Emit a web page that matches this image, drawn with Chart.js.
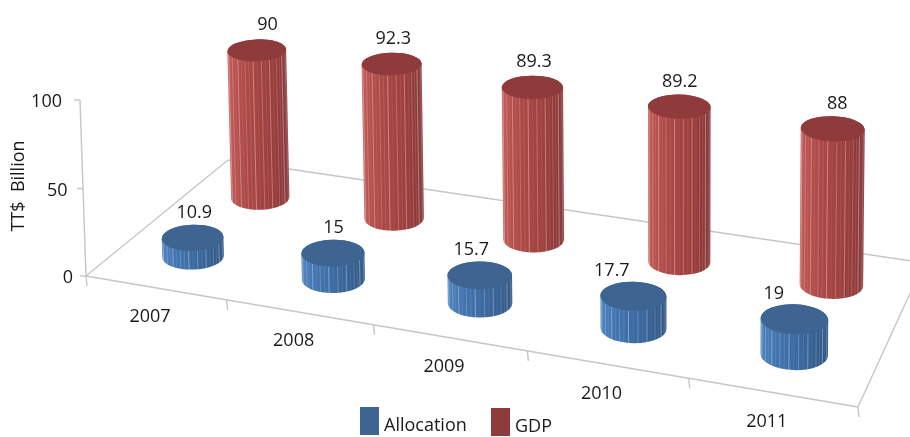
<!DOCTYPE html>
<html>
<head>
<meta charset="utf-8">
<title>Allocation and GDP</title>
<style>
  html, body { margin: 0; padding: 0; background: #fff; }
  canvas { display: block; }
</style>
<script src="https://cdn.jsdelivr.net/npm/chart.js@4"></script>
</head>
<body>
<canvas id="chart" width="910" height="437"></canvas>
<script>
const years = ['2007', '2008', '2009', '2010', '2011'];
const allocation = [10.9, 15, 15.7, 17.7, 19];
const gdp = [90, 92.3, 89.3, 89.2, 88];
const yTicks = { min: 0, max: 100, step: 50 };

const FONT = '"Open Sans", sans-serif';
const TEXT = '#1a1a1a';
const GRID = '#c6c6c6';

// Perspective camera: maps floor position (u across, v into the depth, both 0..1)
// and value w to the screen, as one 3x4 projective matrix.
const camera = {
  xRow: [677.6, 169.3, -0.068, 86],
  yRow: [86.2, -96.9, -1.77, 276],
  wRow: [-0.11, 0.1196, -0.0001, 1]
};
function project(u, v, w) {
  const d = camera.wRow[0] * u + camera.wRow[1] * v + camera.wRow[2] * w + camera.wRow[3];
  const row = r => (r[0] * u + r[1] * v + r[2] * w + r[3]) / d;
  return { x: row(camera.xRow), y: row(camera.yRow), depth: d };
}

// Scale readers: the library's scales locate a category and a value, the camera does the rest.
function uOf(chart, index) {
  const a = chart.chartArea;
  return (chart.scales.x.getPixelForValue(index) - a.left) / (a.right - a.left);
}
function wOf(chart, value) {
  const s = chart.scales.y;
  return s.max * (s.bottom - s.getPixelForValue(value)) / (s.bottom - s.top);
}

// Cylinders sit a touch right of the category centre on the floor
const STAND_OFFSET = 0.002;

const stripeAlpha = [0.32, 0.08, 0.24, 0.06, 0.36, 0.12, 0.2, 0.08];

function discRadii(pt) {
  const rx = 31.4 / pt.depth;
  return { rx, ry: rx * (0.36 + 0.00026 * pt.y) };
}

function drawCylinder(ctx, u, v, w, look) {
  const base = project(u, v, 0);
  const top = project(u, v, w);
  const b = discRadii(base), t = discRadii(top);
  const tilt = (u - 0.5) * 0.09;

  const grad = ctx.createLinearGradient(Math.min(base.x - b.rx, top.x - t.rx), 0, Math.max(base.x + b.rx, top.x + t.rx), 0);
  look.side.forEach((c, i) => grad.addColorStop(i / (look.side.length - 1), c));

  ctx.beginPath();
  ctx.ellipse(base.x, base.y, b.rx, b.ry, tilt, 0, Math.PI);
  ctx.ellipse(top.x, top.y, t.rx, t.ry, tilt, Math.PI, 2 * Math.PI);
  ctx.closePath();
  ctx.fillStyle = grad;
  ctx.fill();

  // Facet seams down the visible half of the side
  const facets = 22;
  ctx.lineWidth = 1;
  for (let i = 1; i < facets; i++) {
    const a = Math.PI * i / facets;
    const sx = (p, r) => p.x + r.rx * Math.cos(a) * Math.cos(tilt) - r.ry * Math.sin(a) * Math.sin(tilt);
    const sy = (p, r) => p.y + r.rx * Math.cos(a) * Math.sin(tilt) + r.ry * Math.sin(a) * Math.cos(tilt);
    ctx.strokeStyle = 'rgba(255,255,255,' + stripeAlpha[i % stripeAlpha.length] + ')';
    ctx.beginPath();
    ctx.moveTo(sx(top, t), sy(top, t));
    ctx.lineTo(sx(base, b), sy(base, b));
    ctx.stroke();
  }

  ctx.beginPath();
  ctx.ellipse(top.x, top.y, t.rx, t.ry, tilt, 0, 2 * Math.PI);
  ctx.fillStyle = look.cap;
  ctx.fill();
}

// Bar controller whose elements are drawn as cylinders standing on the floor plane.
class CylinderController extends Chart.BarController {
  draw() {
    const chart = this.chart, ctx = chart.ctx, ds = this.getDataset();
    ctx.save();
    ds.data.forEach((value, i) => {
      drawCylinder(ctx, uOf(chart, i) + STAND_OFFSET, ds.row, wOf(chart, value), ds.look);
    });
    ctx.restore();
  }
}
CylinderController.id = 'cylinder';
CylinderController.defaults = Chart.BarController.defaults;
CylinderController.overrides = Chart.BarController.overrides;
Chart.register(CylinderController);

function text(ctx, str, x, y, align) {
  ctx.textAlign = align || 'center';
  ctx.textBaseline = 'middle';
  ctx.fillText(str, x, y);
}

const framePlugin = {
  id: 'frame',
  beforeDatasetsDraw(chart) {
    const ctx = chart.ctx;
    const line = (a, b) => { ctx.beginPath(); ctx.moveTo(a.x, a.y); ctx.lineTo(b.x, b.y); ctx.stroke(); };
    const yScale = chart.scales.y, xScale = chart.scales.x;
    const maxW = wOf(chart, yScale.max);
    ctx.save();
    ctx.strokeStyle = GRID;
    ctx.lineWidth = 1.4;

    // Floor outline and value axis
    const corners = [project(0, 0, 0), project(1, 0, 0), project(1, 1, 0), project(0, 1, 0)];
    corners.forEach((c, i) => line(c, corners[(i + 1) % 4]));
    line(project(0, 0, 0), project(0, 0, maxW));

    ctx.fillStyle = TEXT;
    ctx.font = '18px ' + FONT;

    // Value ticks
    yScale.ticks.forEach(tick => {
      const w = wOf(chart, tick.value);
      const p = project(0, 0, w);
      line({ x: p.x - 6, y: p.y }, p);
      text(ctx, tick.label, p.x - 13 - 0.05 * w, p.y + 2, 'right');
    });

    // Category ticks and labels along the front edge
    for (let k = 0; k <= xScale.ticks.length; k++) {
      const p = project(k / xScale.ticks.length, 0, 0);
      line(p, { x: p.x + 1, y: p.y + 10 });
    }
    xScale.ticks.forEach((tick, i) => {
      const p = project(uOf(chart, i), 0, 0);
      text(ctx, tick.label, p.x - 5.5, p.y + 29);
    });

    // Value axis title
    ctx.save();
    ctx.translate(19, 186);
    ctx.rotate(-Math.PI / 2);
    text(ctx, 'TT$  Billion', 0, 0);
    ctx.restore();
    ctx.restore();
  },
  afterDatasetsDraw(chart) {
    const ctx = chart.ctx;
    ctx.save();
    ctx.fillStyle = TEXT;
    ctx.font = '18px ' + FONT;

    // Value labels above each cylinder
    chart.data.datasets.forEach(ds => {
      ds.data.forEach((value, i) => {
        const p = project(uOf(chart, i), ds.row, wOf(chart, value));
        text(ctx, String(value), p.x + ds.labelShift[i], p.y - 25);
      });
    });

    // Legend
    chart.data.datasets.forEach(ds => {
      ctx.fillStyle = ds.look.cap;
      ctx.fillRect(ds.key.x, ds.key.y, 19, 28);
      ctx.fillStyle = TEXT;
      text(ctx, ds.label, ds.key.x + 24, ds.key.y + 19, 'left');
    });
    ctx.restore();
  }
};

new Chart(document.getElementById('chart'), {
  type: 'cylinder',
  data: {
    labels: years,
    datasets: [
      {
        label: 'Allocation',
        data: allocation,
        order: 0,
        row: 0.245,
        labelShift: [3, 2, -7, -20, -19],
        key: { x: 360, y: 407 },
        look: { cap: '#3e6491', side: ['#4b7fbe', '#4072ab', '#3a669a', '#305683'] }
      },
      {
        label: 'GDP',
        data: gdp,
        order: 1,
        row: 0.74,
        labelShift: [12, 3, 3, 2, 6],
        key: { x: 491, y: 408 },
        look: { cap: '#8f3b3b', side: ['#c05754', '#ab4845', '#9f413f', '#853636'] }
      }
    ]
  },
  options: {
    responsive: false,
    animation: false,
    events: [],
    layout: { padding: 0 },
    scales: {
      x: { type: 'category', display: false },
      y: { type: 'linear', display: false, min: yTicks.min, max: yTicks.max, ticks: { stepSize: yTicks.step } }
    },
    plugins: { legend: { display: false }, tooltip: { enabled: false } }
  },
  plugins: [framePlugin]
});
</script>
</body>
</html>
